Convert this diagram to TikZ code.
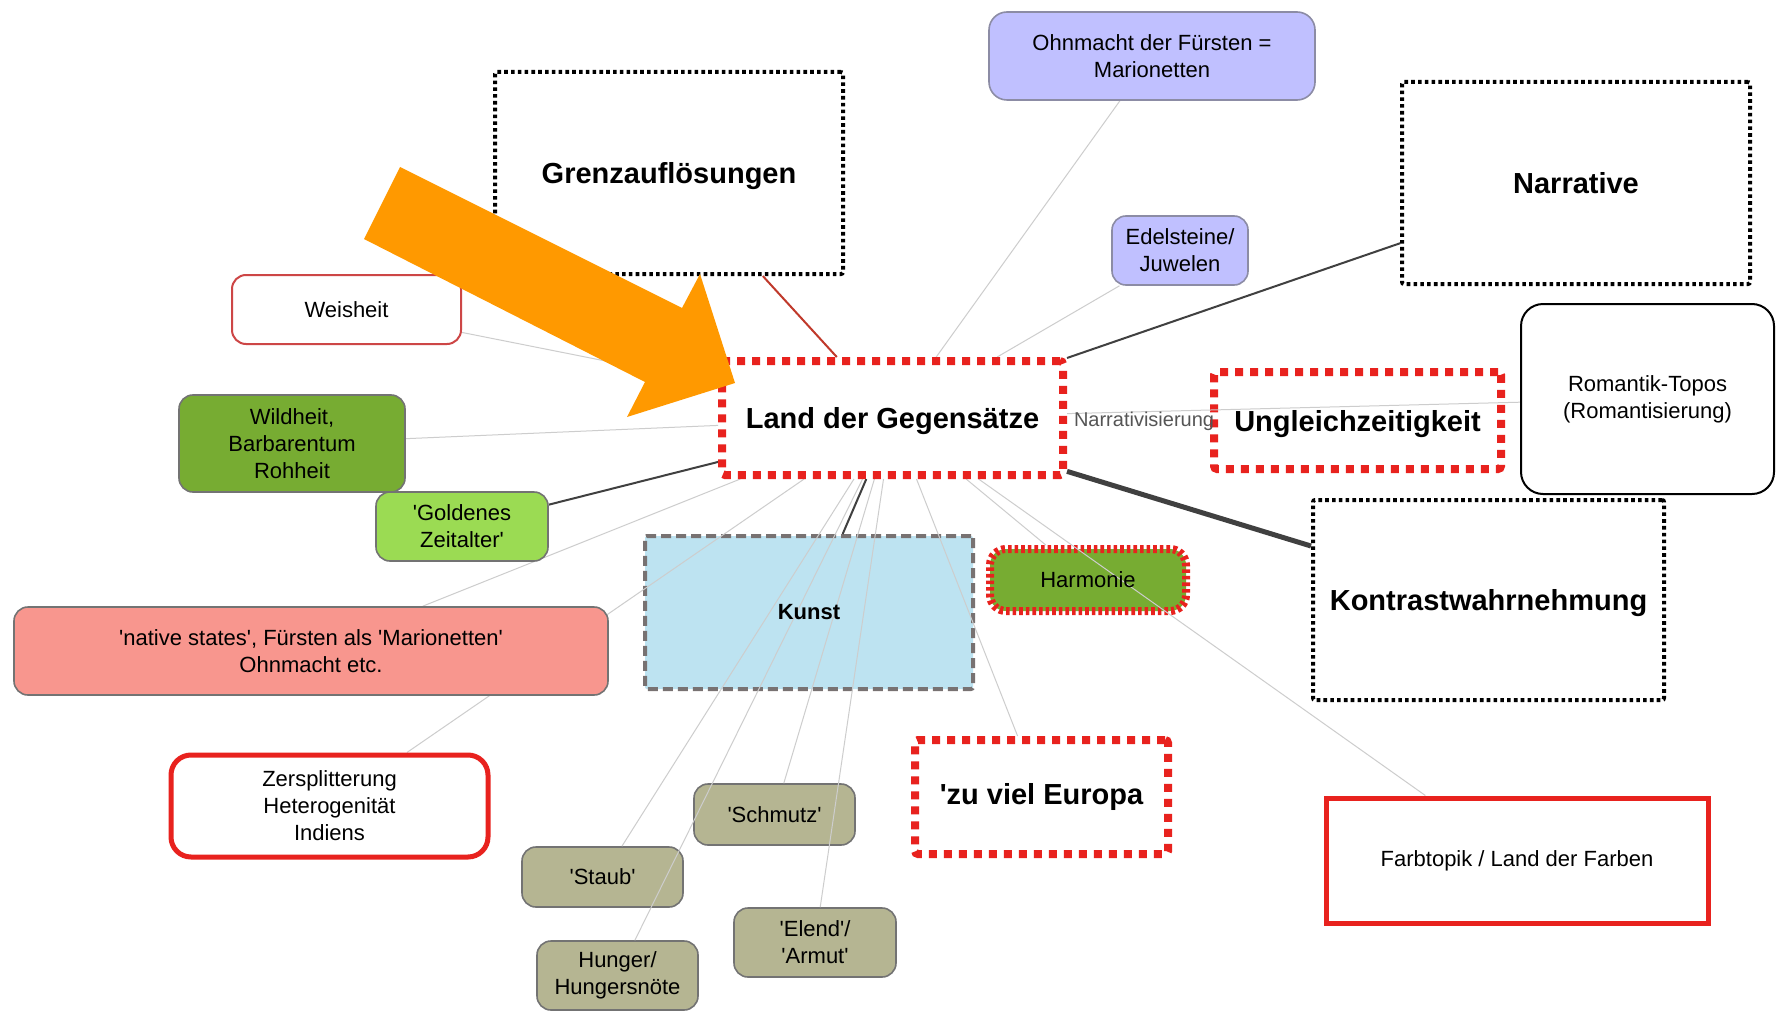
\documentclass[tikz,border=0pt]{standalone}
\usepackage{fontspec}
\setmainfont{Liberation Sans}[Ligatures=TeXOff]

\definecolor{redd}{RGB}{232,34,30}
\definecolor{lav}{RGB}{192,192,255}
\definecolor{lavborder}{RGB}{140,140,165}
\definecolor{khakifill}{RGB}{181,181,146}
\definecolor{wildfill}{RGB}{119,172,50}
\definecolor{goldfill}{RGB}{155,219,83}
\definecolor{nativefill}{RGB}{248,150,142}
\definecolor{kunstfill}{RGB}{189,227,241}
\definecolor{kunstborder}{RGB}{120,114,114}
\definecolor{boxgray}{RGB}{115,115,115}
\definecolor{weisred}{RGB}{205,70,70}
\definecolor{arroworange}{RGB}{255,153,0}
\definecolor{edgelight}{RGB}{205,205,205}
\definecolor{edgedark}{RGB}{64,64,64}
\definecolor{edgered}{RGB}{192,57,43}
\definecolor{labelgray}{RGB}{85,85,85}

\newcommand\normtext{\fontsize{11}{13.5}\selectfont}
\newcommand\headtext{\fontsize{14.5}{17}\selectfont\bfseries}
\newcommand\lbltext{\fontsize{10}{12}\selectfont}

\pgfdeclarelayer{bg}
\pgfdeclarelayer{under}
\pgfdeclarelayer{edges}
\pgfsetlayers{bg,under,edges,main}

\begin{document}
\begin{tikzpicture}[x=0.5pt,y=-0.5pt,
  box/.style={rectangle, inner sep=0pt, align=center, font=\normtext},
  reddots/.style={box, draw=redd, line width=4pt, dash pattern=on 4pt off 3.5pt, rounded corners=1.5pt, font=\headtext},
  blackdots/.style={box, draw=black, line width=2pt, dash pattern=on 1.8pt off 1.6pt, rounded corners=1pt, font=\headtext},
  pill/.style={box, draw=boxgray, line width=0.8pt, rounded corners=7pt},
  khaki/.style={pill, fill=khakifill},
  lavbox/.style={pill, fill=lav, draw=lavborder},
  kunstbox/.style={box, fill=kunstfill, draw=kunstborder, line width=2pt, dash pattern=on 5pt off 2.5pt, rounded corners=1pt},
  harmbox/.style={box, fill=wildfill, draw=redd, line width=4pt, dash pattern=on 1.8pt off 1.5pt, rounded corners=8pt},
  weisbox/.style={box, fill=white, draw=weisred, line width=1pt, rounded corners=7pt},
  zersbox/.style={box, fill=white, draw=redd, line width=2.5pt, rounded corners=10pt},
  farbbox/.style={box, fill=white, draw=redd, line width=2.5pt},
  rombox/.style={box, fill=white, draw=black, line width=1pt, rounded corners=11pt},
  boxtext/.style={inner sep=0pt, align=center, font=\normtext},
  lightedge/.style={draw=edgelight, line width=0.5pt},
  darkedge/.style={draw=edgedark, line width=1pt},
  thickedge/.style={draw=edgedark, line width=2.5pt},
  rededge/.style={draw=edgered, line width=1pt},
  edgelabel/.style={font=\lbltext, text=labelgray, inner sep=0pt}
]
\begin{pgfonlayer}{bg}
  \fill[white] (0,0) rectangle (1780,1016);
  \useasboundingbox (0,0) rectangle (1780,1016);
\end{pgfonlayer}

% boxes that the connectors run across
\begin{pgfonlayer}{under}
  \node[kunstbox, minimum width=164pt, minimum height=76.5pt] (kunst) at (809,612.5) {};
  \node[harmbox, minimum width=98pt, minimum height=31pt] (harm) at (1088,580) {};
  \node[khaki, minimum width=80.5pt, minimum height=30.5pt] (schmutz) at (774.5,814.5) {'Schmutz'};
  \node[khaki, minimum width=80.5pt, minimum height=30pt] (staub) at (602.5,877) {'Staub'};
  \node[khaki, minimum width=81pt, minimum height=34.5pt] (elend) at (815,942.5) {'Elend'/\\'Armut'};
  \node[khaki, minimum width=80.5pt, minimum height=34.5pt] (hunger) at (617.5,975.5) {Hunger/\\Hungersnöte};
  \node[reddots, minimum width=143.5pt, minimum height=48.5pt] (ungl) at (1357.5,420.5) {};
\end{pgfonlayer}

% texts of those boxes, kept above the connectors
\node[boxtext, font=\normtext\bfseries] (kunsttext) at (kunst.center) {Kunst};
\node[boxtext] (harmtext) at (harm.center) {Harmonie};
\node[boxtext, font=\headtext, text depth=0pt] (ungltext) at (ungl.center) {Ungleichzeitigkeit};

% remaining boxes
\node[lavbox, rounded corners=9pt, minimum width=163pt, minimum height=44pt] (ohn) at (1152,56) {Ohnmacht der Fürsten =\\Marionetten};
\node[blackdots, text depth=0pt, minimum width=174pt, minimum height=101pt] (grenz) at (669,173) {Grenzauflösungen};
\node[blackdots, minimum width=174pt, minimum height=101pt] (narr) at (1576,183) {Narrative};
\node[lavbox, minimum width=68pt, minimum height=34.5pt] (edel) at (1180,250.5) {Edelsteine/\\Juwelen};
\node[weisbox, minimum width=114.5pt, minimum height=34.5pt] (weis) at (346.5,309.5) {Weisheit};
\node[pill, fill=wildfill, minimum width=113pt, minimum height=48.5pt] (wild) at (292,443.5) {Wildheit,\\Barbarentum\\Rohheit};
\node[pill, fill=goldfill, minimum width=86pt, minimum height=34.5pt] (gold) at (462,526.5) {'Goldenes\\Zeitalter'};
\node[reddots, text depth=0pt, minimum width=170.5pt, minimum height=57pt] (land) at (892.5,418) {Land der Gegensätze};
\node[rombox, minimum width=126.5pt, minimum height=95pt] (rom) at (1647.5,399) {Romantik-Topos\\(Romantisierung)};
\node[blackdots, text depth=0pt, minimum width=175.5pt, minimum height=100pt] (kontr) at (1488.5,600) {Kontrastwahrnehmung};
\node[pill, fill=nativefill, minimum width=297pt, minimum height=44pt] (native) at (311,651) {'native states', Fürsten als 'Marionetten'\\Ohnmacht etc.};
\node[zersbox, minimum width=158.5pt, minimum height=51pt] (zers) at (329.5,806) {Zersplitterung\\Heterogenität\\Indiens};
\node[reddots, minimum width=126.5pt, minimum height=57pt] (zuviel) at (1041.5,797) {'zu viel Europa};
\node[farbbox, minimum width=191pt, minimum height=62.5pt] (farb) at (1517,860.5) {Farbtopik / Land der Farben};

% connectors from the central topic
\begin{pgfonlayer}{edges}
  \draw[rededge] (land) -- (grenz);
  \draw[lightedge] (land) -- (ohn);
  \draw[lightedge] (land) -- (edel);
  \draw[darkedge] (land) -- (narr);
  \draw[lightedge] (land) -- node[edgelabel, pos=0.17, yshift=-5pt] {Narrativisierung} (rom);
  \draw[thickedge] (land) -- (kontr);
  \draw[darkedge] (land) -- (gold);
  \draw[lightedge] (land) -- (wild);
  \draw[lightedge] (land) -- (weis);
  \draw[lightedge] (land) -- (native);
  \draw[lightedge] (land) -- (zers);
  \draw[darkedge] (land) -- (kunst);
  \draw[lightedge] (land) -- (staub);
  \draw[lightedge] (land) -- (hunger);
  \draw[lightedge] (land) -- (schmutz);
  \draw[lightedge] (land) -- (elend);
  \draw[lightedge] (land) -- (zuviel);
  \draw[lightedge] (land) -- (harm);
  \draw[lightedge] (land) -- (farb);
\end{pgfonlayer}

% orange pointer arrow
\fill[arroworange] (400,167) -- (682,308) -- (700,274) -- (735,383)
  -- (627,417) -- (645,382) -- (364,239) -- cycle;
\end{tikzpicture}
\end{document}
